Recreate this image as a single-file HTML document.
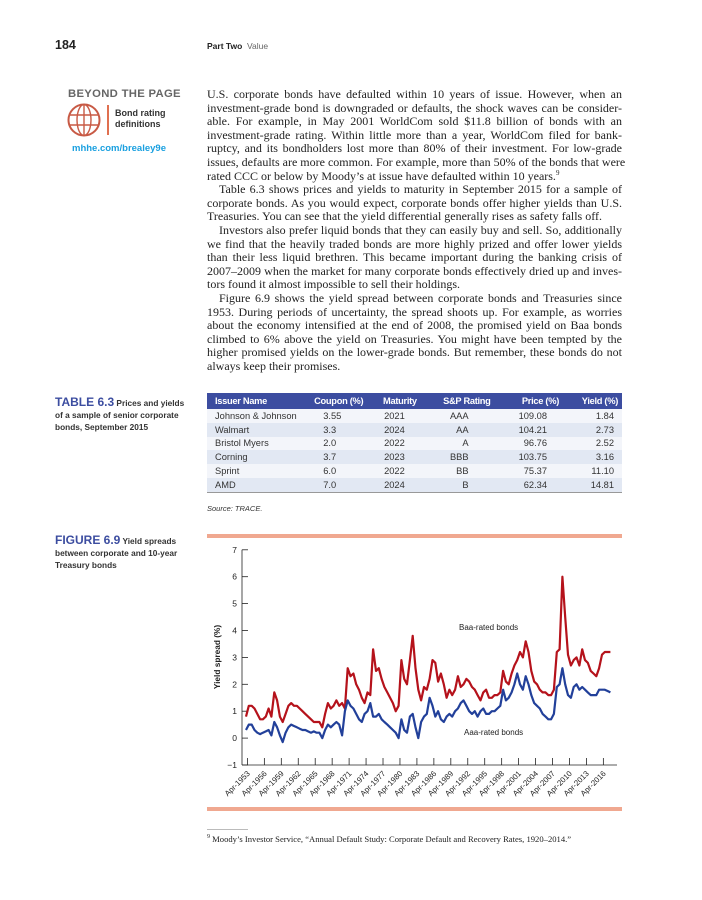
<!DOCTYPE html>
<html><head><meta charset="utf-8">
<style>
*{margin:0;padding:0;box-sizing:border-box}
body{width:702px;height:900px;background:#fff;position:relative;overflow:hidden;font-family:"Liberation Sans",sans-serif;color:#222}
.abs{position:absolute}
.serif{font-family:"Liberation Serif",serif}
#body{left:207px;top:88px;width:415px;font-size:12px;line-height:13.6px}
#body div{white-space:nowrap;text-align:justify;text-align-last:justify;height:13.6px;overflow:visible}
#body div.l{text-align-last:left}
#body div.i{text-indent:12px}
sup.fn{font-size:7px;line-height:0;vertical-align:baseline;position:relative;top:-5px}
table{border-collapse:collapse;font-size:9.3px;width:415px}
th{background:#3c4da0;color:#fff;font-weight:bold;height:16px;font-size:9.3px;letter-spacing:-0.3px}
td{height:13.8px;color:#333}
tr.a td{background:#e2e8f3}
tr.b td{background:#f3f5fa}
.side{font-size:8.3px;font-weight:bold;color:#333;line-height:12px}
.side b{color:#3c4da0;font-size:12px}
</style></head><body>
<div class="abs" style="left:55px;top:38px;font-size:12.5px;font-weight:bold">184</div>
<div class="abs" style="left:207px;top:41px;font-size:8.5px"><b>Part Two</b>&nbsp;&nbsp;<span style="color:#666">Value</span></div>

<div class="abs" style="left:68px;top:88px;font-size:11.3px;font-weight:bold;color:#666;letter-spacing:0.3px">BEYOND THE PAGE</div>
<svg class="abs" style="left:66px;top:102px" width="40" height="36" viewBox="0 0 40 36">
<circle cx="18" cy="18" r="15.5" fill="none" stroke="#c85a45" stroke-width="2"/>
<ellipse cx="18" cy="18" rx="7" ry="15.5" fill="none" stroke="#c85a45" stroke-width="1.4"/>
<line x1="18" y1="2.5" x2="18" y2="33.5" stroke="#c85a45" stroke-width="1.4"/>
<line x1="3" y1="13" x2="33" y2="13" stroke="#c85a45" stroke-width="1.4"/>
<line x1="3" y1="23" x2="33" y2="23" stroke="#c85a45" stroke-width="1.4"/>
</svg>
<div class="abs" style="left:107px;top:105px;width:2px;height:30px;background:#e07050"></div>
<div class="abs" style="left:115px;top:108px;font-size:9px;font-weight:bold;line-height:10.5px;color:#333">Bond rating<br>definitions</div>
<div class="abs" style="left:72px;top:143px;font-size:9.5px;font-weight:bold;color:#1aa0e0">mhhe.com/brealey9e</div>

<div id="body" class="abs serif">
<div>U.S. corporate bonds have defaulted within 10 years of issue. However, when an</div>
<div>investment-grade bond is downgraded or defaults, the shock waves can be consider-</div>
<div>able. For example, in May 2001 WorldCom sold $11.8 billion of bonds with an</div>
<div>investment-grade rating. Within little more than a year, WorldCom filed for bank-</div>
<div>ruptcy, and its bondholders lost more than 80% of their investment. For low-grade</div>
<div>issues, defaults are more common. For example, more than 50% of the bonds that were</div>
<div class="l">rated CCC or below by Moody’s at issue have defaulted within 10 years.<sup class="fn">9</sup></div>
<div class="i">Table 6.3 shows prices and yields to maturity in September 2015 for a sample of</div>
<div>corporate bonds. As you would expect, corporate bonds offer higher yields than U.S.</div>
<div class="l">Treasuries. You can see that the yield differential generally rises as safety falls off.</div>
<div class="i">Investors also prefer liquid bonds that they can easily buy and sell. So, additionally</div>
<div>we find that the heavily traded bonds are more highly prized and offer lower yields</div>
<div>than their less liquid brethren. This became important during the banking crisis of</div>
<div>2007–2009 when the market for many corporate bonds effectively dried up and inves-</div>
<div class="l">tors found it almost impossible to sell their holdings.</div>
<div class="i">Figure 6.9 shows the yield spread between corporate bonds and Treasuries since</div>
<div>1953. During periods of uncertainty, the spread shoots up. For example, as worries</div>
<div>about the economy intensified at the end of 2008, the promised yield on Baa bonds</div>
<div>climbed to 6% above the yield on Treasuries. You might have been tempted by the</div>
<div>higher promised yields on the lower-grade bonds. But remember, these bonds do not</div>
<div class="l">always keep their promises.</div>
</div>

<div class="abs side" style="left:55px;top:396px;width:145px"><b>TABLE 6.3</b> Prices and yields<br>of a sample of senior corporate<br>bonds, September 2015</div>

<div class="abs" style="left:207px;top:393px;border-bottom:1px solid #999">
<table>
<colgroup><col style="width:72px"><col style="width:70px"><col style="width:56px"><col style="width:78px"><col style="width:72px"><col style="width:67px"></colgroup>
<tr><th style="text-align:left;padding-left:8px">Issuer Name</th><th style="text-align:right">Coupon (%)</th><th style="text-align:right">Maturity</th><th style="text-align:right">S&amp;P Rating</th><th style="text-align:right">Price (%)</th><th style="text-align:right;padding-right:4px">Yield (%)</th></tr>
<tr class="b"><td style="padding-left:8px;white-space:nowrap">Johnson &amp; Johnson</td><td style="text-align:right;padding-right:22px">3.55</td><td style="text-align:right;padding-right:12px">2021</td><td style="text-align:right;padding-right:22px">AAA</td><td style="text-align:right;padding-right:12px">109.08</td><td style="text-align:right;padding-right:8px">1.84</td></tr>
<tr class="a"><td style="padding-left:8px">Walmart</td><td style="text-align:right;padding-right:22px">3.3&nbsp;&nbsp;</td><td style="text-align:right;padding-right:12px">2024</td><td style="text-align:right;padding-right:22px">AA</td><td style="text-align:right;padding-right:12px">104.21</td><td style="text-align:right;padding-right:8px">2.73</td></tr>
<tr class="b"><td style="padding-left:8px">Bristol Myers</td><td style="text-align:right;padding-right:22px">2.0&nbsp;&nbsp;</td><td style="text-align:right;padding-right:12px">2022</td><td style="text-align:right;padding-right:22px">A</td><td style="text-align:right;padding-right:12px">96.76</td><td style="text-align:right;padding-right:8px">2.52</td></tr>
<tr class="a"><td style="padding-left:8px">Corning</td><td style="text-align:right;padding-right:22px">3.7&nbsp;&nbsp;</td><td style="text-align:right;padding-right:12px">2023</td><td style="text-align:right;padding-right:22px">BBB</td><td style="text-align:right;padding-right:12px">103.75</td><td style="text-align:right;padding-right:8px">3.16</td></tr>
<tr class="b"><td style="padding-left:8px">Sprint</td><td style="text-align:right;padding-right:22px">6.0&nbsp;&nbsp;</td><td style="text-align:right;padding-right:12px">2022</td><td style="text-align:right;padding-right:22px">BB</td><td style="text-align:right;padding-right:12px">75.37</td><td style="text-align:right;padding-right:8px">11.10</td></tr>
<tr class="a"><td style="padding-left:8px">AMD</td><td style="text-align:right;padding-right:22px">7.0&nbsp;&nbsp;</td><td style="text-align:right;padding-right:12px">2024</td><td style="text-align:right;padding-right:22px">B</td><td style="text-align:right;padding-right:12px">62.34</td><td style="text-align:right;padding-right:8px">14.81</td></tr>
</table></div>
<div class="abs" style="left:207px;top:504px;font-size:7.5px;font-style:italic;color:#333">Source: TRACE.</div>

<div class="abs side" style="left:55px;top:534px;width:140px"><b>FIGURE 6.9</b> Yield spreads<br>between corporate and 10-year<br>Treasury bonds</div>

<svg id="chart" class="abs" style="left:0;top:0" width="702" height="900"></svg>

<div class="abs" style="left:207px;top:829px;width:41px;height:1px;background:#bbb"></div>
<div class="abs serif" style="left:207px;top:834px;font-size:8.6px;color:#222"><sup style="font-size:6px">9</sup> Moody’s Investor Service, “Annual Default Study: Corporate Default and Recovery Rates, 1920–2014.”</div>

<script>
const years = [1953,1953.5,1954,1954.5,1955,1955.5,1956,1956.5,1957,1957.5,1958,1958.5,1959,1959.5,1960,1960.5,1961,1961.5,1962,1962.5,1963,1963.5,1964,1964.5,1965,1965.5,1966,1966.5,1967,1967.5,1968,1968.5,1969,1969.5,1970,1970.5,1971,1971.5,1972,1972.5,1973,1973.5,1974,1974.5,1975,1975.5,1976,1976.5,1977,1977.5,1978,1978.5,1979,1979.5,1980,1980.5,1981,1981.5,1982,1982.5,1983,1983.5,1984,1984.5,1985,1985.5,1986,1986.5,1987,1987.5,1988,1988.5,1989,1989.5,1990,1990.5,1991,1991.5,1992,1992.5,1993,1993.5,1994,1994.5,1995,1995.5,1996,1996.5,1997,1997.5,1998,1998.5,1999,1999.5,2000,2000.5,2001,2001.5,2002,2002.5,2003,2003.5,2004,2004.5,2005,2005.5,2006,2006.5,2007,2007.5,2008,2008.5,2009,2009.5,2010,2010.5,2011,2011.5,2012,2012.5,2013,2013.5,2014,2014.5,2015,2015.5,2016,2016.5,2017,2017.5];
const baaSpread = [0.8,1.2,1.2,1.1,0.9,0.7,0.7,0.8,1.1,0.8,1.7,1.4,0.8,0.6,0.9,1.2,1.3,1.2,1.2,1.1,1.0,0.9,0.8,0.7,0.6,0.6,0.6,0.4,0.9,1.3,1.1,1.2,1.4,1.2,1.3,1.1,2.6,2.3,2.4,2.0,1.8,1.5,1.3,1.7,1.6,3.3,2.5,2.6,2.2,1.9,1.7,1.5,1.3,1.0,1.2,2.9,2.2,2.0,2.9,3.8,2.6,1.8,1.4,1.9,1.8,2.2,2.9,2.8,2.1,2.4,2.0,1.5,1.8,1.6,1.8,2.3,1.9,2.0,2.2,2.1,1.9,1.8,1.6,1.4,1.7,1.8,1.5,1.5,1.6,1.6,1.7,2.5,2.1,2.0,2.4,2.7,2.9,3.2,3.0,3.6,3.2,2.5,2.1,2.0,1.8,1.7,1.7,1.6,1.6,1.8,3.2,3.3,6.0,4.5,3.1,2.7,2.9,3.0,2.7,3.3,2.9,2.8,2.5,2.4,2.3,2.6,3.1,3.2,3.2,3.2];
const aaaSpread = [0.3,0.5,0.5,0.3,0.2,0.15,0.2,0.25,0.3,0.1,0.6,0.4,0.1,-0.15,0.2,0.4,0.5,0.45,0.4,0.35,0.3,0.3,0.25,0.2,0.25,0.2,0.2,0.0,0.3,0.5,0.4,0.5,0.6,0.5,0.1,1.0,1.4,1.2,1.1,0.9,0.7,0.6,0.9,1.0,1.3,0.8,0.8,0.9,0.7,0.6,0.5,0.4,0.3,0.2,0.0,0.7,0.3,0.2,0.8,0.9,0.4,0.0,0.6,0.8,0.9,1.5,1.2,0.8,1.0,0.7,0.6,0.8,0.9,0.8,1.0,1.1,1.3,1.4,1.2,1.0,0.9,1.0,0.8,1.0,1.1,0.9,0.9,1.0,1.0,1.1,1.2,1.8,1.4,1.5,1.7,2.0,2.4,2.0,1.8,2.3,2.0,1.6,1.3,1.2,1.1,0.9,0.8,0.7,0.7,0.9,1.9,2.0,2.6,2.0,1.6,1.5,1.9,2.0,1.8,1.9,1.8,1.7,1.6,1.6,1.6,1.8,1.8,1.8,1.75,1.7];
const yTicks = [-1,0,1,2,3,4,5,6,7];
const xTickYears = [1953,1956,1959,1962,1965,1968,1971,1974,1977,1980,1983,1986,1989,1992,1995,1998,2001,2004,2007,2010,2013,2016];

const NS='http://www.w3.org/2000/svg';
const svg=document.getElementById('chart');
function xs(yr){return 246+(yr-1953)*5.65;}
function ys(v){return 738.1-v*26.9;}
function mk(tag,attrs){const e=document.createElementNS(NS,tag);for(const k in attrs)e.setAttribute(k,attrs[k]);svg.appendChild(e);return e;}

let e=mk('rect',{x:207,y:534,width:415,height:4,fill:'#f0a890'});


e=mk('rect',{x:207,y:807,width:415,height:4,fill:'#f0a890'});



e=mk('line',{x1:242,y1:ys(7),x2:242,y2:ys(-1),stroke:'#222','stroke-width':0.8});


e=mk('line',{x1:242,y1:ys(-1),x2:617,y2:ys(-1),stroke:'#222','stroke-width':0.8});



yTicks.forEach(v=>{
  let t=mk('line',{x1:242,y1:ys(v),x2:248,y2:ys(v),stroke:'#222','stroke-width':0.8});
  
  
  let l=mk('text',{x:237,y:ys(v)+3,'text-anchor':'end','font-size':8.5,fill:'#222','font-family':'Liberation Sans, sans-serif'});
  l.textContent=(v<0?'\u2212'+Math.abs(v):String(v));
  
  
});
xTickYears.forEach(yr=>{
  const x=xs(yr+0.25);
  let t=mk('line',{x1:x,y1:ys(-1)-7,x2:x,y2:ys(-1),stroke:'#222','stroke-width':0.8});
  
  
  let l=mk('text',{x:x+3,y:ys(-1)+9,'text-anchor':'end','font-size':7.8,fill:'#222','font-family':'Liberation Sans, sans-serif',transform:`rotate(-45 ${x+3} ${ys(-1)+9})`});
  l.textContent='Apr-'+yr;
  
  
});

let yt=mk('text',{x:220,y:657,'text-anchor':'middle','font-size':8.3,'font-weight':'bold',fill:'#222','font-family':'Liberation Sans, sans-serif',transform:'rotate(-90 220 657)'});
yt.textContent='Yield spread (%)';



function path(vals){return vals.map((v,i)=>(i?'L':'M')+xs(years[i]).toFixed(1)+' '+ys(v).toFixed(1)).join(' ');}
let p=mk('path',{d:path(baaSpread),fill:'none',stroke:'#b5121b','stroke-width':2.2,'stroke-linejoin':'round'});


p=mk('path',{d:path(aaaSpread),fill:'none',stroke:'#22409a','stroke-width':2.2,'stroke-linejoin':'round'});



let t1=mk('text',{x:459,y:630,'font-size':8,fill:'#222','font-family':'Liberation Sans, sans-serif'});
t1.textContent='Baa-rated bonds';


let t2=mk('text',{x:464,y:735,'font-size':8,fill:'#222','font-family':'Liberation Sans, sans-serif'});
t2.textContent='Aaa-rated bonds';


</script>
</body></html>
